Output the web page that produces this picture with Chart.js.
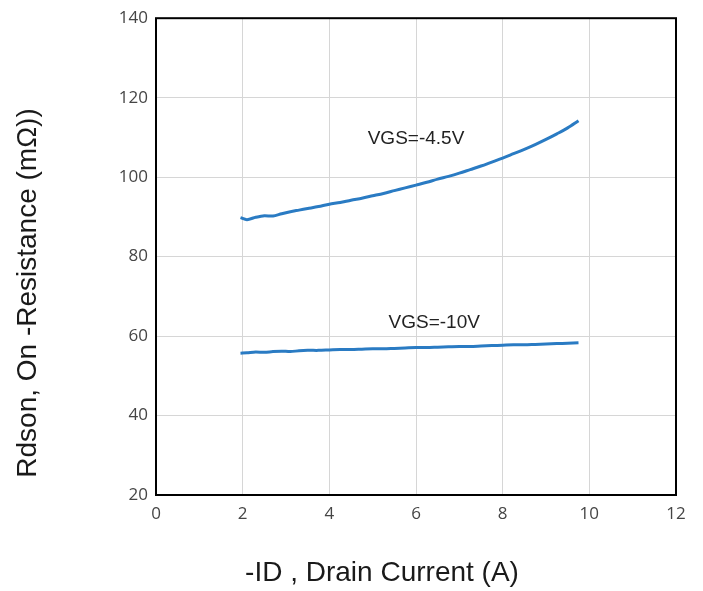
<!DOCTYPE html>
<html>
<head>
<meta charset="utf-8">
<script src="https://cdn.jsdelivr.net/npm/chart.js@4"></script>
<style>
  html, body { margin: 0; padding: 0; background: #fff; }
  #wrap { width: 703px; height: 591px; }
</style>
</head>
<body>
<div id="wrap"><canvas id="chart"></canvas></div>
<script>
// drain current (A)
const drainCurrent = [1.95, 2.1, 2.3, 2.5, 2.7, 2.9, 3.1, 3.3, 3.5, 3.75, 4, 4.25, 4.5, 4.75, 5, 5.25, 5.5, 5.75,
    6, 6.25, 6.5, 6.75, 7, 7.25, 7.5, 7.75, 8, 8.25, 8.5, 8.75, 9, 9.25, 9.5, 9.75];
// Rdson (mOhm)
const rdsonVgs45 = [89.8, 89.3, 89.9, 90.3, 90.2, 90.8, 91.3, 91.7, 92.1, 92.6, 93.2, 93.6, 94.2, 94.7, 95.3, 95.9, 96.6, 97.3,
    98.0, 98.7, 99.5, 100.2, 101.0, 101.9, 102.8, 103.8, 104.8, 105.9, 107.0, 108.2, 109.5, 110.9, 112.4, 114.2];
const rdsonVgs10 = [55.7, 55.8, 56.0, 55.9, 56.1, 56.2, 56.1, 56.3, 56.4, 56.4, 56.5, 56.6, 56.6, 56.7, 56.8, 56.8, 56.9, 57.0,
    57.1, 57.1, 57.2, 57.3, 57.4, 57.4, 57.5, 57.6, 57.7, 57.8, 57.8, 57.9, 58.0, 58.1, 58.2, 58.3];

// curve labels, in data coordinates
const curveLabels = [
    { text: 'VGS=-4.5V', x: 6.0, y: 109.7 },
    { text: 'VGS=-10V', x: 6.42, y: 63.4 }
];

const xTitle = '-ID , Drain Current (A)';
const yTitle = 'Rdson, On -Resistance (mΩ))';

const lineColor = '#2a7bc3';
const titleFont = '28px "Liberation Sans", Arial, sans-serif';

function toPoints(xs, ys) {
    return xs.map((x, i) => ({ x: x, y: ys[i] }));
}

const boxAndLabels = {
    id: 'boxAndLabels',
    afterDraw(chart) {
        const ctx = chart.ctx;
        const area = chart.chartArea;
        const xs = chart.scales.x;
        const ys = chart.scales.y;
        ctx.save();
        ctx.strokeStyle = '#000';
        ctx.lineWidth = 2;
        ctx.strokeRect(area.left, area.top, area.right - area.left, area.bottom - area.top);

        ctx.fillStyle = '#222';
        ctx.font = '19px "Liberation Sans", Arial, sans-serif';
        ctx.textAlign = 'center';
        ctx.textBaseline = 'middle';
        curveLabels.forEach((l) => {
            ctx.fillText(l.text, xs.getPixelForValue(l.x), ys.getPixelForValue(l.y));
        });

        // axis titles (sit off-centre in the original)
        ctx.fillStyle = '#1a1a1a';
        ctx.font = titleFont;
        ctx.fillText(xTitle, 382, 573);
        ctx.translate(28, 293);
        ctx.rotate(-Math.PI / 2);
        ctx.fillText(yTitle, 0, 0);
        ctx.restore();
    }
};

new Chart(document.getElementById('chart'), {
    type: 'line',
    data: {
        datasets: [{
            label: 'VGS=-4.5V',
            data: toPoints(drainCurrent, rdsonVgs45),
            borderColor: lineColor,
            borderWidth: 3,
            pointRadius: 0,
            tension: 0.3,
            fill: false
        }, {
            label: 'VGS=-10V',
            data: toPoints(drainCurrent, rdsonVgs10),
            borderColor: lineColor,
            borderWidth: 3,
            pointRadius: 0,
            tension: 0.3,
            fill: false
        }]
    },
    options: {
        responsive: true,
        maintainAspectRatio: false,
        animation: false,
        layout: { padding: { top: 16, right: 27, left: 0, bottom: 0 } },
        plugins: {
            legend: { display: false },
            tooltip: { enabled: false }
        },
        scales: {
            x: {
                type: 'linear',
                min: 0,
                max: 12,
                afterFit: (scale) => { scale.height = 96; },
                ticks: {
                    stepSize: 2,
                    color: '#454545',
                    padding: 9,
                    font: { family: '"Open Sans", sans-serif', size: 17 }
                },
                grid: { color: '#d6d6d6', lineWidth: 1, drawTicks: false },
                border: { display: false }
            },
            y: {
                min: 20,
                max: 140,
                afterFit: (scale) => { scale.width = 156; },
                ticks: {
                    stepSize: 20,
                    color: '#454545',
                    padding: 8,
                    font: { family: '"Open Sans", sans-serif', size: 17 }
                },
                grid: { color: '#d6d6d6', lineWidth: 1, drawTicks: false },
                border: { display: false }
            }
        }
    },
    plugins: [boxAndLabels]
});
</script>
</body>
</html>
